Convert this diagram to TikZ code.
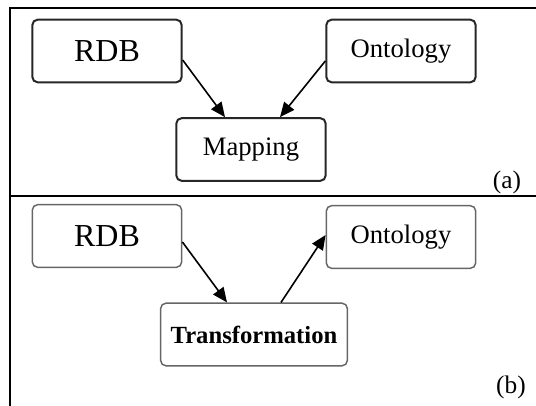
\documentclass[tikz,border=0pt]{standalone}
\usepackage{fontspec}
\setmainfont{Liberation Serif}
\usepackage{tikz}
\usetikzlibrary{arrows.meta, positioning, calc}

\tikzset{
  boxa/.style={draw=black!85, line width=1.5pt, rounded corners=4pt, minimum width=112pt, minimum height=47pt, inner sep=0pt},
  boxb/.style={boxa, draw=black!60, line width=1.1pt},
  arr/.style={line width=1.2pt, -{Triangle[length=11pt,width=9.5pt]}},
  frame/.style={line width=1.4pt}
}

\begin{document}
\begin{tikzpicture}[x=0.75pt, y=-0.75pt]
      \useasboundingbox (0,0) rectangle (536,406);
      \draw[frame] (10,406) |- (536,8);
      \draw[frame] (10,196) -- (536,196);

      \node[boxa, font=\fontsize{24}{27}\selectfont] (rdbA) at (107,51) {RDB};
      \node[boxa, font=\fontsize{20}{23}\selectfont] (ontA) at (401,51) {Ontology};
      \node[boxa, font=\fontsize{20}{23}\selectfont] (mapA) at (251,149.5) {Mapping};
      \draw[arr] ($(rdbA.east)+(0,9)$) -- ($(mapA.north)+(-26,0)$);
      \draw[arr] ($(ontA.west)+(0,10)$) -- ($(mapA.north)+(29,0)$);
      \node[font=\fontsize{19}{21}\selectfont] (lblA) at (507,182) {(a)};

      \node[boxb, font=\fontsize{24}{27}\selectfont] (rdbB) at (107,236) {RDB};
      \node[boxb, font=\fontsize{20}{23}\selectfont] (ontB) at (401,237) {Ontology};
      \node[boxb, minimum width=140pt, font=\fontsize{18.5}{21}\selectfont\bfseries] (trB) at (254,334.5) {Transformation};
      \draw[arr] ($(rdbB.east)+(0,6)$) -- ($(trB.north)+(-27,0)$);
      \draw[arr] ($(trB.north)+(27,0)$) -- ($(ontB.west)+(0,-2)$);
      \node[font=\fontsize{19}{21}\selectfont] (lblB) at (511,387) {(b)};
\end{tikzpicture}
\end{document}
